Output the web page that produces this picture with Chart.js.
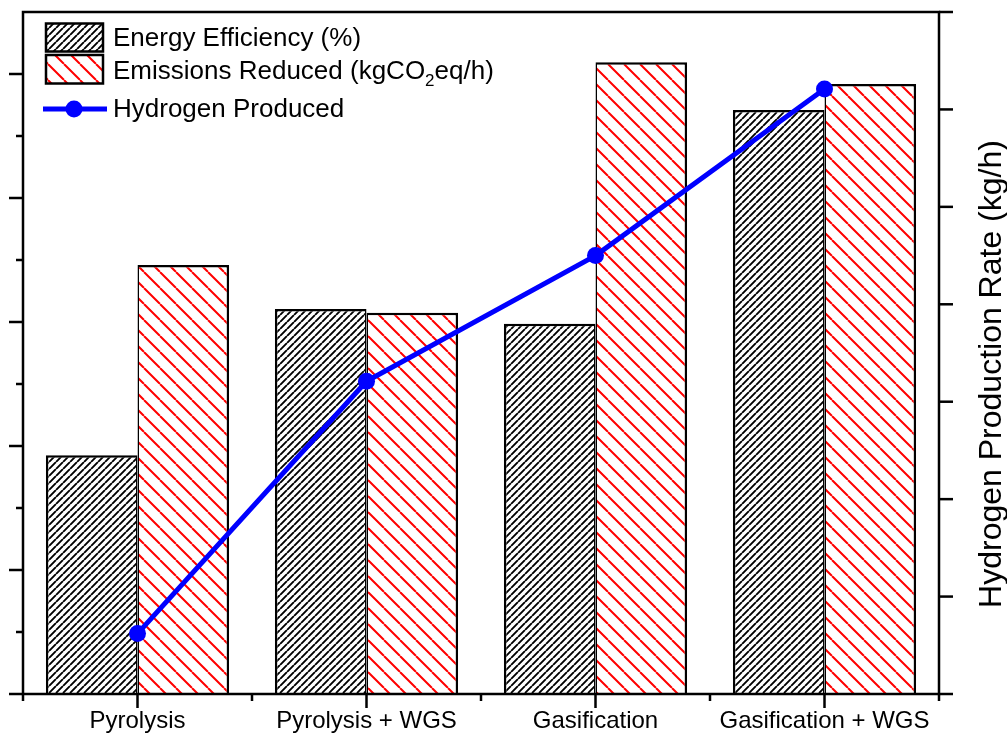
<!DOCTYPE html>
<html>
<head>
<meta charset="utf-8">
<script src="https://cdn.jsdelivr.net/npm/chart.js@4/dist/chart.umd.min.js"></script>
<style>
  html, body { margin: 0; padding: 0; background: #fff; }
  #wrap { width: 1007px; height: 740px; }
</style>
</head>
<body>
<div id="wrap"><canvas id="c" width="1007" height="740"></canvas></div>
<script>
// Process routes and their results
const categories = ['Pyrolysis', 'Pyrolysis + WGS', 'Gasification', 'Gasification + WGS'];
const energyEfficiency = [38.5, 62.1, 59.7, 94.2];      // %
const emissionsReduced = [69.2, 61.5, 101.9, 98.4];     // kgCO2eq/h
const hydrogenProduced = [6.2, 32.1, 45.0, 62.1];       // kg/h

// Axis ranges and tick spacing (no numeric labels are printed)
const leftRange = [0, 110];
const leftMajorStep = 20;
const leftMinorStep = 10;
const rightRange = [0, 70];
const rightStep = 10;

const FONT = '"Liberation Sans", Arial, Helvetica, sans-serif';

function hatch(size, color, width, dir) {
  const c = document.createElement('canvas');
  c.width = c.height = size;
  const g = c.getContext('2d');
  g.fillStyle = '#fff';
  g.fillRect(0, 0, size, size);
  g.strokeStyle = color;
  g.lineWidth = width;
  g.beginPath();
  for (let k = -1; k <= 1; k++) {
    if (dir === '/') { g.moveTo(k * size, size); g.lineTo(k * size + size, 0); }
    else { g.moveTo(k * size, 0); g.lineTo(k * size + size, size); }
  }
  g.stroke();
  return g.createPattern(c, 'repeat');
}

const blackHatch = hatch(7, '#000', 1.9, '/');
const redHatch = hatch(16, '#ff0000', 2, '\\');
const blue = '#0000ff';

// Box, axis lines and tick marks
const framePlugin = {
  id: 'frame',
  afterDatasetsDraw(chart) {
    const { ctx, chartArea: a, scales } = chart;
    ctx.save();
    ctx.strokeStyle = '#000';
    ctx.lineWidth = 2.5;
    ctx.lineCap = 'butt';
    const seg = (x1, y1, x2, y2) => { ctx.beginPath(); ctx.moveTo(x1, y1); ctx.lineTo(x2, y2); ctx.stroke(); };
    ctx.beginPath();
    ctx.moveTo(a.left, a.bottom);
    ctx.lineTo(a.left, a.top);
    ctx.lineTo(a.right, a.top);
    ctx.lineTo(a.right, a.bottom);
    ctx.closePath();
    ctx.stroke();
    // left ticks (major + minor)
    for (let v = leftRange[0]; v < leftRange[1]; v += leftMinorStep) {
      const y = scales.y.getPixelForValue(v);
      const len = (v % leftMajorStep === 0) ? 14 : 7;
      seg(a.left - len, y, a.left, y);
    }
    // right ticks
    for (let v = rightRange[0]; v <= rightRange[1]; v += rightStep) {
      const y = scales.y2.getPixelForValue(v);
      seg(a.right, y, a.right + 14, y);
    }
    // bottom ticks: long at category centres, short at boundaries
    for (let i = 0; i < categories.length; i++) {
      const xc = scales.x.getPixelForValue(i);
      seg(xc, a.bottom, xc, a.bottom + 14);
    }
    for (let i = 0; i <= categories.length; i++) {
      const xb = scales.x.getPixelForValue(i - 0.5);
      seg(xb, a.bottom, xb, a.bottom + 7);
    }
    ctx.restore();
  }
};

// Legend and right axis title
const annotatePlugin = {
  id: 'annotate',
  afterDraw(chart) {
    const { ctx, chartArea: a } = chart;
    ctx.save();
    // legend swatches
    const bx = 46, bw = 57;
    ctx.lineWidth = 2.5;
    ctx.strokeStyle = '#000';
    ctx.fillStyle = blackHatch;
    ctx.fillRect(bx, 23.5, bw, 28);
    ctx.strokeRect(bx, 23.5, bw, 28);
    ctx.fillStyle = redHatch;
    ctx.fillRect(bx, 55, bw, 28.5);
    ctx.strokeRect(bx, 55, bw, 28.5);
    ctx.strokeStyle = blue;
    ctx.lineWidth = 5;
    ctx.beginPath(); ctx.moveTo(43, 109); ctx.lineTo(107, 109); ctx.stroke();
    ctx.fillStyle = blue;
    ctx.beginPath(); ctx.arc(74, 109, 8.5, 0, Math.PI * 2); ctx.fill();

    ctx.fillStyle = '#000';
    ctx.textBaseline = 'alphabetic';
    ctx.textAlign = 'left';
    ctx.font = '26px ' + FONT;
    const tx = 113;
    ctx.fillText('Energy Efficiency (%)', tx, 45.5);
    let s = 'Emissions Reduced (kgCO';
    ctx.fillText(s, tx, 79);
    let w = ctx.measureText(s).width;
    ctx.font = '17px ' + FONT;
    ctx.fillText('2', tx + w, 86);
    const w2 = ctx.measureText('2').width;
    ctx.font = '26px ' + FONT;
    ctx.fillText('eq/h)', tx + w + w2, 79);
    ctx.fillText('Hydrogen Produced', tx, 117);

    // right axis title
    ctx.translate(1001, (a.top + a.bottom) / 2 + 21);
    ctx.rotate(-Math.PI / 2);
    ctx.textAlign = 'center';
    ctx.font = '32px ' + FONT;
    ctx.fillText('Hydrogen Production Rate (kg/h)', 0, 0);
    ctx.restore();
  }
};

new Chart(document.getElementById('c'), {
  data: {
    labels: categories,
    datasets: [
      {
        type: 'bar',
        label: 'Energy Efficiency (%)',
        data: energyEfficiency,
        yAxisID: 'y',
        backgroundColor: blackHatch,
        borderColor: '#000',
        borderWidth: { left: 2.5, top: 2.5, right: 1.5, bottom: 0 },
        borderSkipped: 'bottom',
        categoryPercentage: 0.8,
        barPercentage: 1.0,
        order: 1
      },
      {
        type: 'bar',
        label: 'Emissions Reduced (kgCO2eq/h)',
        data: emissionsReduced,
        yAxisID: 'y',
        backgroundColor: redHatch,
        borderColor: '#000',
        borderWidth: { left: 1.5, top: 2.5, right: 2.5, bottom: 0 },
        borderSkipped: 'bottom',
        categoryPercentage: 0.8,
        barPercentage: 1.0,
        order: 1
      },
      {
        type: 'line',
        label: 'Hydrogen Produced',
        data: hydrogenProduced,
        yAxisID: 'y2',
        borderColor: blue,
        backgroundColor: blue,
        borderWidth: 5,
        pointRadius: 8.5,
        pointBorderWidth: 0,
        pointBackgroundColor: blue,
        tension: 0,
        order: 0
      }
    ]
  },
  options: {
    responsive: false,
    animation: false,
    events: [],
    layout: { padding: { top: 12, left: 0, right: 0, bottom: 0 } },
    plugins: { legend: { display: false }, tooltip: { enabled: false } },
    scales: {
      x: {
        type: 'category',
        offset: true,
        grid: { display: false, drawTicks: false },
        border: { display: false },
        ticks: { color: '#000', font: { family: FONT, size: 24 }, padding: 13, maxRotation: 0, autoSkip: false },
        afterFit(scale) { scale.height = 46; }
      },
      y: {
        position: 'left',
        min: leftRange[0], max: leftRange[1],
        grid: { display: false, drawTicks: false },
        border: { display: false },
        ticks: { display: false },
        afterFit(scale) { scale.width = 23; }
      },
      y2: {
        position: 'right',
        min: rightRange[0], max: rightRange[1],
        grid: { display: false, drawTicks: false },
        border: { display: false },
        ticks: { display: false },
        afterFit(scale) { scale.width = 68; }
      }
    }
  },
  plugins: [framePlugin, annotatePlugin]
});
</script>
</body>
</html>
